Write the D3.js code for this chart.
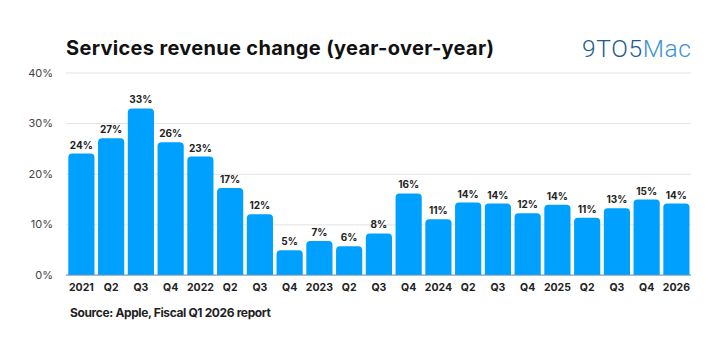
<!DOCTYPE html>
<html><head><meta charset="utf-8">
<script src="https://cdn.jsdelivr.net/npm/d3@7"></script>
<style>
html,body{margin:0;padding:0;background:#fff;}
svg{display:block;}
text{font-family:Inter,"Liberation Sans",Arial,sans-serif;}
</style></head>
<body>
<script>
const categories = ["2021","Q2","Q3","Q4","2022","Q2","Q3","Q4","2023","Q2","Q3","Q4","2024","Q2","Q3","Q4","2025","Q2","Q3","Q4","2026"];
const values = [24,27,32.9,26.2,23.4,17.2,12,4.9,6.7,5.7,8.2,16.1,11,14.3,14.1,12.2,13.9,11.3,13.2,14.9,14.1];
const yTicks = [0,10,20,30,40];
const title = "Services revenue change (year-over-year)";
const source = "Source: Apple, Fiscal Q1 2026 report";

const W = 722, H = 355;
const svg = d3.select("body").append("svg").attr("width", W).attr("height", H);

const x = d3.scaleBand().domain(d3.range(categories.length)).range([68.3, 689.5]).paddingInner(0.12).paddingOuter(0);
const y = d3.scaleLinear().domain([0, 40]).range([275, 72.5]);

function fitText(sel, target){
  const n = sel.text().length;
  const w = sel.node().getComputedTextLength();
  sel.attr("letter-spacing", ((target - w) / (n - 1)).toFixed(3));
}

// title
const t = svg.append("text").attr("x", 66).attr("y", 54.5)
  .attr("font-size", 20).attr("font-weight", 700).attr("fill", "#111").text(title);
fitText(t, 428);

// logo
const logo = svg.append("text").attr("x", 582).attr("y", 56.5)
  .attr("font-size", 24.5).attr("font-weight", 300).style("font-family", "Roboto, 'Open Sans', sans-serif");
logo.append("tspan").attr("fill", "#1d5c8c").text("9TO5");
logo.append("tspan").attr("fill", "#3b92d4").text("Mac");
fitText(logo, 109);

// gridlines
const yAxis = d3.axisLeft(y).tickValues(yTicks).tickSize(-(691 - 66)).tickFormat(d => d + "%");
const ga = svg.append("g").attr("transform", "translate(66,0)").call(yAxis);
ga.select(".domain").remove();
ga.selectAll(".tick line").attr("stroke", "#e2e2e2").attr("stroke-width", 1);
ga.selectAll(".tick text").attr("x", -13).attr("fill", "#444").attr("font-size", 11)
  .style("font-family", "Inter, 'Liberation Sans', sans-serif");

// bars
const r = 4;
svg.append("g").selectAll("path").data(values).join("path")
  .attr("fill", "#00a0ff")
  .attr("d", (d, i) => {
    const x0 = x(i), w = x.bandwidth(), y0 = y(d), yb = y(0);
    return `M${x0},${yb}V${y0 + r}Q${x0},${y0} ${x0 + r},${y0}H${x0 + w - r}Q${x0 + w},${y0} ${x0 + w},${y0 + r}V${yb}Z`;
  });

// baseline
svg.append("line").attr("x1", 66).attr("x2", 691).attr("y1", y(0)).attr("y2", y(0))
  .attr("stroke", "#5f93c0").attr("stroke-width", 1);

// value labels
svg.append("g").selectAll("text").data(values).join("text")
  .attr("x", (d, i) => x(i) + x.bandwidth() / 2).attr("y", d => y(d) - 5)
  .attr("text-anchor", "middle").attr("font-size", 10).attr("font-weight", 700).attr("fill", "#222")
  .text(d => Math.round(d) + "%");

// x labels
const xAxis = d3.axisBottom(x).tickSize(0).tickFormat(i => categories[i]);
const gx = svg.append("g").attr("transform", `translate(0,${y(0)})`).call(xAxis);
gx.select(".domain").remove();
gx.selectAll(".tick text").attr("dy", 0).attr("y", 16).attr("font-size", 10.5).attr("font-weight", 700)
  .attr("fill", "#222").style("font-family", "Inter, 'Liberation Sans', sans-serif");

// source
const s = svg.append("text").attr("x", 70).attr("y", 317).attr("font-size", 12).attr("font-weight", 700)
  .attr("fill", "#222").text(source);
fitText(s, 201);
</script>
</body></html>
